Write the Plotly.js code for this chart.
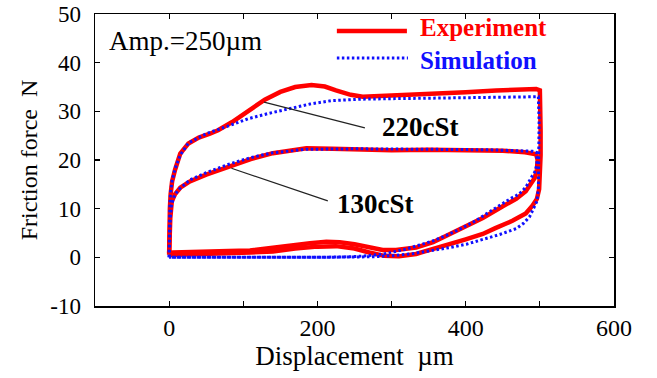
<!DOCTYPE html>
<html><head><meta charset="utf-8">
<script src="https://cdn.plot.ly/plotly-3.0.1.min.js"></script>
<style>html,body{margin:0;padding:0;background:#fff}</style>
</head><body>
<div id="chart" style="width:657px;height:378px"></div>
<script>
// Tick definitions
const xTickVals = [-100, 0, 100, 200, 300, 400, 500, 600];
const xTickText = ['', '0', '', '200', '', '400', '', '600'];
const yTickVals = [-10, 0, 10, 20, 30, 40, 50];
const yTickText = ['-10', '0', '10', '20', '30', '40', '50'];

// 220 cSt, experiment (red)
const exp220X = [0,0,0.5,1,2,4,8,15,26,40,55,66,85,98,115,129,150,170,192,210,225,245,261,300,351,400,441,480,495,500,501,501,501,500,499,496,490,481,463,440,423,400,378,356,333,310,290,270,250,225,200,170,140,110,70,30,5,0];
const exp220Y = [0.5,3,7,10,13,15.6,18,21.3,23.4,24.6,25.4,26.1,27.8,29.2,31,32.4,34,35,35.4,35.1,34.3,33.4,33,33.2,33.6,33.9,34.3,34.5,34.6,34.3,31,26,21,17,14,12,10.6,9,7.5,6,4.8,3.7,2.7,1.7,0.7,0.2,0.3,1.0,1.8,2.3,2.2,1.8,1.2,1.0,0.8,0.7,0.6,0.5];

// 130 cSt, experiment (red)
const exp130X = [0,0.5,1.5,3.6,8,15,28,50,82,110,140,170,185,220,253,300,350,400,450,480,495,497,496,493,488,481,468,463,450,423,400,378,356,333,306,288,270,250,230,212,190,170,140,109,80,50,20,5,0];
const exp130Y = [0.8,4,8,11.5,13,14.3,15.6,17,18.7,20.2,21.4,22.1,22.4,22.3,22.1,22.0,22.1,22.0,21.9,21.6,21.2,20,18,16.3,15,13.6,12,11.6,10.5,8.1,6.4,4.8,3.1,2.0,1.5,1.5,2.1,2.7,3.1,3.2,2.9,2.5,1.9,1.4,1.3,1.2,1.1,1.0,0.8];

// 220 cSt, simulation (blue)
const sim220X = [0,0,0.5,1,2,4,8,15,26,50,80,107,135,160,190,219,260,300,351,400,450,490,498,499,499,499,498,496,490,486,478,468,446,425,401,378,356,330,306,280,250,200,100,0];
const sim220Y = [0,4,8,11,13.5,15.8,18.2,21,23.5,25.4,27,28.5,29.6,30.5,31.5,32.2,32.5,32.6,32.7,32.8,33,33.1,33,28,22,17,14,11.5,9.4,8.3,7,5.9,4.7,3.7,2.7,2,1.4,0.8,0.4,0.15,0.05,0,0,0];

// 130 cSt, simulation (blue)
const sim130X = [0,0.5,1.5,3,6,12,28,50,82,110,140,185,253,350,430,490,496,496,493,490,485,481,472,463,445,428,410,392,374,356,338,320,305,289,266,240,200,100,0];
const sim130Y = [0,4,8,10.5,12.3,13.8,15.9,17.4,19.2,20.5,21.5,22.2,22.3,22.2,22.1,21.8,21.5,19,17.5,16.8,15.5,14.4,13,12.3,10.6,8.9,7.2,5.8,4.5,3.4,2.5,1.7,1.2,0.7,0.3,0.1,0,0,0];

// Labels
const seriesNames = ['Experiment', 'Simulation'];
const loopLabels = ['220cSt', '130cSt'];
const loopLabelX = [284, 224];
const loopLabelY = [26.8, 10.9];
const leaderX0 = [128, 84];
const leaderY0 = [31.9, 18.3];
const leaderX1 = [264, 214];
const leaderY1 = [26.6, 11.6];

const FONT = '"Liberation Serif", "Times New Roman", Times, serif';
const RED = '#ff0000';
const BLUE = '#1010ff';

const redLine = {color: RED, width: 4.5};
const blueLine = {color: BLUE, width: 3, dash: '2.5px,2.5px'};

const traces = [
  {x: exp220X, y: exp220Y, mode: 'lines', line: redLine, showlegend: false, hoverinfo: 'skip'},
  {x: exp130X, y: exp130Y, mode: 'lines', line: redLine, showlegend: false, hoverinfo: 'skip'},
  {x: sim220X, y: sim220Y, mode: 'lines', line: blueLine, showlegend: false, hoverinfo: 'skip'},
  {x: sim130X, y: sim130Y, mode: 'lines', line: blueLine, showlegend: false, hoverinfo: 'skip'}
];

// plot area: top 14, bottom 306 -> height 292
const shapes = [];
for (let i = 0; i < 2; i++) {
  shapes.push({type: 'line', xref: 'x', yref: 'y', x0: leaderX0[i], y0: leaderY0[i], x1: leaderX1[i], y1: leaderY1[i], line: {color: '#222', width: 1.2}});
}
// legend samples
shapes.push({type: 'line', xref: 'paper', yref: 'paper', x0: 0.466, x1: 0.601, y0: 0.942, y1: 0.942, line: {color: RED, width: 4.5}});
shapes.push({type: 'line', xref: 'paper', yref: 'paper', x0: 0.466, x1: 0.603, y0: 0.849, y1: 0.849, line: {color: BLUE, width: 3, dash: '2.5px,2.5px'}});

const legendText = '<span style="color:' + RED + '"><b>' + seriesNames[0] + '</b></span><br>' +
                   '<span style="color:' + BLUE + '"><b>' + seriesNames[1] + '</b></span>';

const annotations = [
  {text: 'Amp.=250µm', xref: 'paper', yref: 'paper', x: 0.023, y: 0.908, xanchor: 'left', yanchor: 'middle', showarrow: false, font: {family: FONT, size: 27, color: '#000'}},
  {text: legendText, xref: 'paper', yref: 'paper', x: 0.622, y: 0.897, xanchor: 'left', yanchor: 'middle', align: 'left', showarrow: false, font: {family: FONT, size: 25, color: RED}}
];
for (let i = 0; i < 2; i++) {
  annotations.push({text: '<b>' + loopLabels[i] + '</b>', xref: 'x', yref: 'y', x: loopLabelX[i], y: loopLabelY[i], xanchor: 'left', yanchor: 'middle', showarrow: false, font: {family: FONT, size: 27, color: '#000'}});
}

const layout = {
  width: 657, height: 378,
  margin: {l: 95, r: 43, t: 14, b: 72},
  paper_bgcolor: '#fff', plot_bgcolor: '#fff',
  showlegend: false,
  font: {family: FONT, color: '#000'},
  xaxis: {
    range: [-100, 600], tickvals: xTickVals, ticktext: xTickText,
    ticks: 'inside', ticklen: 5, tickwidth: 1.2, tickcolor: '#000',
    showline: true, linecolor: '#000', linewidth: 1.5, mirror: 'ticks',
    showgrid: false, zeroline: false, ticklabeloverflow: 'allow',
    tickfont: {family: FONT, size: 24, color: '#000'},
    title: {text: 'Displacement  µm', font: {family: FONT, size: 27, color: '#000'}, standoff: 6},
    automargin: false
  },
  yaxis: {
    range: [-10, 50], tickvals: yTickVals, ticktext: yTickText,
    ticks: 'inside', ticklen: 5, tickwidth: 1.2, tickcolor: '#000',
    showline: true, linecolor: '#000', linewidth: 1.5, mirror: 'ticks',
    showgrid: false, zeroline: false, ticklabeloverflow: 'allow',
    ticklabelstandoff: 8,
    tickfont: {family: FONT, size: 23, color: '#000'},
    title: {text: 'Friction force  N', font: {family: FONT, size: 24, color: '#000'}, standoff: 6},
    automargin: false
  },
  shapes: shapes,
  annotations: annotations
};

Plotly.newPlot('chart', traces, layout, {staticPlot: true, displayModeBar: false});
</script>
</body></html>
